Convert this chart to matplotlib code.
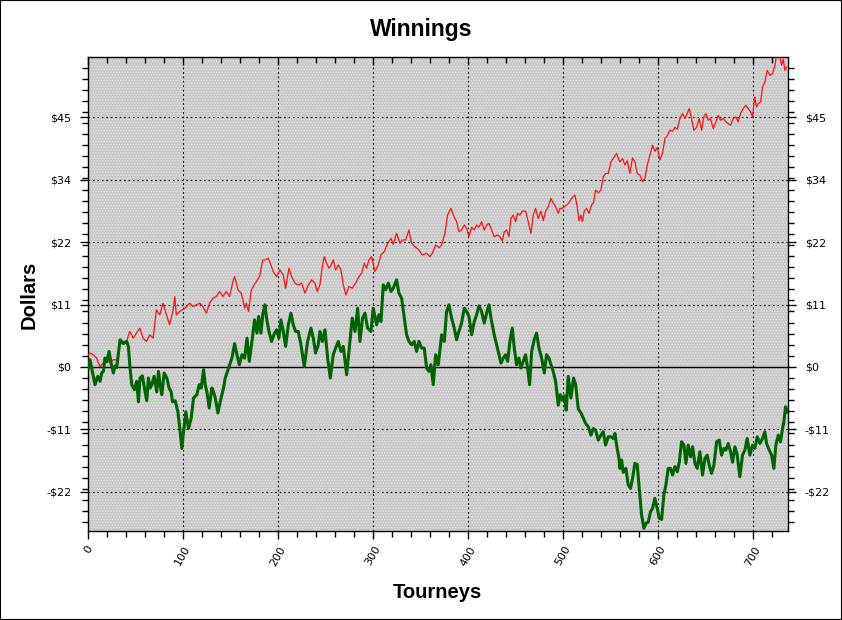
import matplotlib
matplotlib.use("Agg")
import matplotlib.pyplot as plt
from matplotlib.ticker import MultipleLocator, FixedLocator
from matplotlib.patches import Rectangle

# red series (tourney, dollars)
red_x = [0.3, 2, 5.6, 9, 12.6, 16, 19.6, 23, 26.6, 30, 32, 33.6, 37, 40.6, 44, 47.6, 51, 54.6,
         58, 61.6, 65, 68.6, 72, 75.6, 79, 82.6, 86, 89.6, 91.4, 93, 96.6, 102, 107, 110.6,
         114, 117.6, 121, 124.6, 128, 131.6, 135, 138.6, 142, 145.6, 149, 152.6, 154.4, 158,
         161.4, 165, 166.6, 169, 172, 175, 180.6, 184,
         186.3, 189.8, 192.6, 195, 198.6, 202, 205.6, 208, 211.6, 214.4, 217.9, 221.4, 225,
         228.4, 232, 235.4, 239, 241.4, 244.2, 246.7, 248.8, 251.2, 253.7, 255.8, 258.2,
         260.7, 263.5, 266.3, 268.8, 271.6, 274.7, 278.2, 281.7, 285.3, 288.1, 290.9, 293.3,
         295.8, 298.6, 302.1, 305.6, 308.4, 311.9, 315.4, 319, 321.4, 324.9, 328.4, 330.9,
         334.4, 337.9, 340.7, 344.2, 348.4, 351.9, 356.5, 360, 362.5, 366, 369.5, 372.3,
         375.8, 378.6, 382.1, 384.6, 388.1, 390.5, 393.3, 396.2, 398.6, 401.1, 403.9, 406.7,
         409.1, 411.6, 414.4, 417.2, 419.7, 422.1, 424.9, 427.7, 431.2, 433.7, 436.2, 438.3,
         440.7, 443.2, 445.3, 447.7, 450.2, 452.3, 454.8, 457.2, 460.7, 463.5, 466.3, 468.8,
         471.2, 474, 476.9, 479.3, 481.8, 484.6, 487.4, 489.8, 492.3, 495.1, 496.9, 499.3,
         501.4, 503.9, 506.3, 509.2, 512.6, 514.8, 516.9, 519, 520.4, 522.5, 525, 527.4,
         530.2, 532.3, 534.4, 537.2, 540, 542.5, 544.9, 547.7, 550.6, 554.1, 556.5, 559,
         560, 562.8, 565.3, 567.7, 570.5, 573.3, 575.8, 578.2, 581.1, 583.9, 586.3, 588.8,
         591.6, 594.4, 596.8, 599.3, 602.1, 604.9, 607.4, 609.8, 612.6, 615.4, 617.9, 620.4,
         623.2, 626, 628.4, 630.9, 633, 635.4, 637.9, 640.7, 643.5, 646, 648.4, 650.5, 653,
         655.4, 658.3, 661.1, 663.5, 666, 668.8, 671.6, 674, 676.5, 679.3, 682.1, 684.6, 687,
         689.8, 692.6, 695.1, 697.6, 699.7, 701.9, 703.9, 705.6, 708.1, 710.2, 712.6, 715.1,
         717.9, 720.7, 723.2, 724.9, 727.7, 730.2, 732, 733.7, 735.4]
red_y = [2.2, 2.5, 2.2, 1.6, 0.05, 0.7, 1.6, 0.7, 1.3, 1.3, 1.9, 4, 4.6, 4.6, 6.4, 5.2, 6.1, 7,
         5.2, 4.6, 5.8, 5.2, 10.3, 9.4, 11.5, 9.4, 7.6, 10.3, 12.7, 9.4, 10, 10.6, 11.5, 10.9,
         11.2, 11.5, 10.9, 9.7, 11.5, 12.4, 12.7, 13.6, 12.7, 13.6, 12.7, 15.4, 16.3, 13.9,
         13.3, 10.6, 11.5, 10, 13.9, 14.8, 16.3, 19.3,
         19.3, 19.6, 18.4, 17.2, 16.3, 17.5, 16.6, 14.2, 17.8, 16.3, 15.1, 14.8, 15.1,
         13.3, 14.8, 15.7, 15.1, 13.6, 14.8, 18.1, 19.9, 18.7, 17.8, 18.3, 19.3,
         17.5, 18.4, 17.5, 14.8, 13, 14.5, 14.2, 15.1, 16.3, 16.9, 18.7, 17.8,
         19.3, 19.9, 17.2, 18.4, 20.2, 20.8, 22.3, 23.2, 22.1, 24.1, 22.3, 22.9,
         22.9, 24.7, 22.3, 21.7, 21.1, 20.2, 20.5, 19.9, 20.5, 22, 21.5, 22,
         24.1, 27.4, 28.6, 27.4, 26.2, 24.4, 24.7, 25.6, 25, 23.5, 25.2, 24.7,
         25.6, 25.2, 26.2, 24.7, 25.6, 25.9, 24.7, 23.5, 23.8, 23.5, 22.7, 24.4,
         24.7, 23.5, 26.8, 27.4, 26.2, 27.7, 27.4, 28.1, 28.1, 26.2, 24.1, 27.4,
         28.6, 26.8, 28.1, 26.4, 28.1, 28.9, 30.4, 29.6, 28.9, 27.7, 28.6, 28.6,
         28.9, 29.2, 29.6, 30.4, 31, 29.2, 26.4, 27.4, 26.2, 28.1, 28.6, 27.7,
         29.2, 29.7, 31.9, 31.4, 31.9, 34.3, 34.9, 34.9, 37, 37.9, 38.5, 37.3,
         37, 37.6, 36.4, 37.2, 34.9, 37.7, 37, 34.9, 34.6, 33.4, 34, 36.4,
         38.2, 40, 38.9, 39.6, 37.3, 38.6, 41.2, 41.7, 42.7, 42.5, 43.2, 42.9,
         44.8, 45.7, 44.8, 45.7, 46.6, 44.8, 42.7, 43.2, 44.8, 42.7, 45.1, 45.7, 44.5,
         44.8, 43, 44.2, 45.4, 44.5, 44.8, 44.2, 43.9, 43.6, 44.8, 45.1, 44.2, 45.7,
         46.6, 47.2, 46.6, 46, 45.1, 48.7, 46.9, 47.5, 47.8, 50.5, 51.4, 53.5,
         52.6, 52.9, 54.4, 56.3, 56.5, 54.4, 55.5, 53.5, 54.1]

# green series (tourney, dollars)
green_x = [0.35, 2.1, 3.9, 7.4, 10.2, 12.7, 14.4, 16.2, 17.9, 19.7, 22.2, 24.3, 26.7, 28.5,
           30.2, 33.8, 37.3, 40.8, 42.5, 44.3, 46.1, 48.9, 51.3, 53.1, 54.8, 57.3, 59.4,
           61.9, 63.6, 65.4, 67.2, 69.6, 72.4, 74.2, 75.9, 77.7, 80.2, 83, 85.4, 87.5, 89,
           91.8, 94.6, 96.3, 98.8, 100.6, 103, 105.8, 108.6, 111.1, 114.6, 117.1, 119.2,
           121.7, 123.4, 125.2, 127.6, 130.4, 132.2, 134, 136.8, 139.2, 142.7, 144.5, 148,
           151.5, 154.4, 156.8, 159.3, 162.1, 164.9, 167.4, 169.8, 172.6, 175.4, 177.9,
           179.7, 182.1, 184.2,
           186.3, 188, 190.5, 193.3, 196.1, 198.6, 201, 203.1, 205.6, 208.1, 210.9, 213.7,
           216.1, 218.6, 221.4, 224.2, 227.7, 231.2, 234.7, 237.2, 239.6, 242.4, 244.2,
           246.7, 249.5, 252.3, 255.1, 258.2, 260.7, 263.5, 266.3, 268.8, 272.3, 274.7,
           278.2, 281.1, 283.9, 286.3, 289.1, 291.6, 294.4, 297.9, 300.3, 303.9, 306.3,
           308.4, 310.9, 313.3, 316.2, 319, 321.4, 324.9, 327.4, 330.2, 333, 335.4, 337.9,
           340.7, 343.5, 346, 348.4, 351.2, 354, 356.5, 358.9, 361, 363.5, 366, 368.8,
           372.3, 375.1,
           377.5, 380, 382.8, 385.6, 388.1, 390.5, 393.3, 396.2, 398.6, 401.1, 403.9, 406.7,
           409.1, 411.6, 414.4, 417.2, 419.7, 422.1, 424.9, 427.7, 430.2, 432.6, 434.8,
           437.2, 439.7, 441.8, 444.2, 446.7, 448.8, 451.2, 453.7, 455.8, 458.3, 460.7,
           462.8, 464.9, 467.1, 469.9, 472.3, 474.8, 477.6, 480.4, 482.8, 485.3, 487.4,
           489.8, 492.3, 495.1, 497.2, 499.3, 501.4, 503.5, 505.6, 508.4, 511.2, 513.4,
           516.2, 519, 521.4, 523.9, 526.7, 529.5, 532, 534.4, 537.2, 540, 542.5, 544.9,
           547.7, 550.6, 553, 554.8, 556.5, 559,
           560, 561.8, 563.5, 566.3, 568.8, 571.2, 573.3, 575.8, 578.2, 580.4, 582.8, 585.3,
           587.4, 589.8, 592.3, 594.4, 596.8, 599.3, 601.4, 603.9, 606.3, 608.4, 610.9,
           613.3, 615.4, 617.9, 620.4, 622.5, 624.9, 627.4, 629.5, 631.9, 634.4, 636.5, 639,
           641.4, 644.2, 647, 649.5, 651.9, 654, 656.5, 659, 661.8, 664.6, 667, 669.5, 671.6,
           674, 676.5, 678.6, 681.1, 683.5, 686.3, 689.1, 691.6, 694, 696.8, 699.7, 702.1,
           704.6, 707.4, 710.2, 712.6, 714.4, 717.2, 719.7, 722.1, 724.2, 726.7, 729.1,
           731.2, 732.6, 734.4, 736.2]
green_y = [-0.2, 1.3, -0.2, -3.2, -1.7, -2.6, -1.1, -0.8, 1.6, 0.9, 2.8, 0.7, -1.1, 0.2,
           -0.1, 4.9, 4.2, 4.6, 3.7, -0.2, -3.2, -4.1, -2.6, -6.3, -2, -1.6, -3.8,
           -6.1, -2, -3.8, -3.2, -1.7, -4.5, -0.8, -3.2, -5, -1.1, -2, -3.8, -4.5, -6.3,
           -6.1, -8.1, -10.5, -14.7, -11.7, -8.1, -11.1, -9.3, -5.6, -5, -3.2, -3.8,
           -0.5, -3.2, -4.5, -7.4, -3.8, -4.5, -5.6, -8.3, -6.3, -3.8, -2, -0.2,
           1.6, 4.2, 2.2, 0.4, 2.2, 1.6, 5.2, 1, 4.6, 8.5, 6.1,
           9.1, 6.1, 9.7,
           11.2, 8.8, 6.4, 4.6, 6, 6.7, 5.2, 8.5, 6.4, 3.7, 7.6, 9.7,
           7.6, 6.4, 6.4, 4, 0.05, 4.6, 7, 5.2, 2.5, 4, 6.4,
           4.6, 6.7, 1.6, -2, 2.2, 3.4, 4.6, 2.8, 3.7, -1.4, 2.8,
           8.8, 6.4, 10.6, 4.6, 8.8, 9.7, 7, 6.4, 10.6, 7.6, 9.4,
           8.2, 14.8, 13.9, 15.1, 13.6, 14.2, 15.7, 13.3, 12.4, 8.8, 5.8, 4.6,
           4, 4.6, 2.8, 4.6, 3.4, 3.4, -0.2, -0.8, 0.4, -3.2, 2.2, 0.4,
           5.8, 4.6,
           10, 11.2, 8.8, 7, 4.9, 6.4, 7.9, 10.6, 10, 9.1, 5.8, 8.2,
           9.4, 11, 10, 7.9, 9.7, 11.2, 8.2, 5.8, 4, 2.2, 0.7,
           1.6, 2.2, 1, 4.6, 7, 3.4, 0.4, 1.6, -0.2, 1, 2.2,
           -0.2, -3.2, 2.8, 5, 6.1, 3.4, 1.6, -1.1, 2.2, 1.6, 0.4,
           -0.8, -2.6, -6.9, -5, -6, -5.2, -7.8, -1.7, -5.6, -2, -3.2,
           -7.6, -8.3, -9.2, -10.2, -10.8, -12.3, -11.1, -11.4, -13.2, -12.3, -11.7, -14.1,
           -12.6, -12.6, -12.9, -12, -14.1, -16.5,
           -18.3, -16.8, -19, -18.3, -21.3, -21.9, -20.1, -17.4, -17.6, -21.9, -26.7, -29.1,
           -28.2, -28, -26.1, -25.5, -23.7, -25.5, -27.3, -27.5, -23.1, -21.3, -18.3,
           -18.3, -19.5, -18, -18.9, -17.2, -13.5, -14.1, -17.4, -14.1, -16.2, -14.4, -17.4,
           -18.3, -15.3, -19.5, -16.5, -15.9, -17.7, -19.2, -17.7, -13.5, -13.2, -15.9, -14.7, -15,
           -13.8, -15.3, -17.2, -14.4, -15.9, -19.8, -15.9, -15, -12.9, -15.9, -14.1, -14.7,
           -12.6, -13.8, -12.9, -11.7, -13.8, -15, -15.9, -18.3, -14.1, -12.3, -13.5,
           -11.1, -9.9, -7.2, -8.1]

y_major = [-22.5, -11.25, 0, 11.25, 22.5, 33.75, 45]
y_labels = ['-$22', '-$11', '$0', '$11', '$22', '$34', '$45']
x_major = [0, 100, 200, 300, 400, 500, 600, 700]

fig = plt.figure(figsize=(8.42, 6.2), dpi=100, facecolor='white')
fig.patches.append(Rectangle((0, 0), 1, 1, transform=fig.transFigure, fill=False,
                             edgecolor='black', linewidth=1.5))
ax = fig.add_axes([0.1045, 0.1435, 0.8314, 0.7645])
ax.set_facecolor('#c6c6c6')
plt.rcParams['hatch.linewidth'] = 0.8
ax.add_patch(Rectangle((0, 0), 1, 1, transform=ax.transAxes, facecolor='none',
                       edgecolor='#e4e4e4', hatch='......', linewidth=0, zorder=0))

ax.set_xlim(0, 737)
ax.set_ylim(-29.6, 55.9)

ax.grid(True, which='major', color='black', linestyle=(0, (1.5, 2.5)), linewidth=0.8)
ax.axhline(0, color='black', linewidth=1, zorder=2)

ax.plot(red_x, red_y, color='#ff1010', linewidth=0.9, zorder=3)
ax.plot(green_x, green_y, color='#006400', linewidth=2.2, zorder=4)

ax.xaxis.set_major_locator(FixedLocator(x_major))
ax.xaxis.set_minor_locator(MultipleLocator(20))
ax.set_xticklabels([str(v) for v in x_major], rotation=60, ha='center', fontsize=8)
ax.yaxis.set_major_locator(FixedLocator(y_major))
ax.yaxis.set_minor_locator(MultipleLocator(2))
ax.set_yticklabels(y_labels, fontsize=8)

ax.tick_params(axis='y', which='both', left=True, right=True, labelright=True,
               direction='out')
ax.tick_params(axis='x', which='both', top=True, bottom=True, direction='out')
ax.tick_params(which='major', length=6, width=1)
ax.tick_params(which='minor', length=4, width=1)
ax.tick_params(axis='y', which='major', pad=6)
for t in ax.xaxis.get_major_ticks() + ax.xaxis.get_minor_ticks():
    t.tick2line.set_marker(3)
for sp in ax.spines.values():
    sp.set_linewidth(1)

fig.text(0.5, 0.952, 'Winnings', ha='center', va='center', fontsize=16.5,
         fontweight='bold', family='Liberation Sans')
fig.text(0.034, 0.525, 'Dollars', ha='center', va='center', rotation=90, fontsize=14.5,
         fontweight='bold', family='Liberation Sans')
fig.text(0.519, 0.045, 'Tourneys', ha='center', va='center', fontsize=14.5,
         fontweight='bold', family='Liberation Sans')

fig.savefig('out.png', dpi=100, facecolor='white')
